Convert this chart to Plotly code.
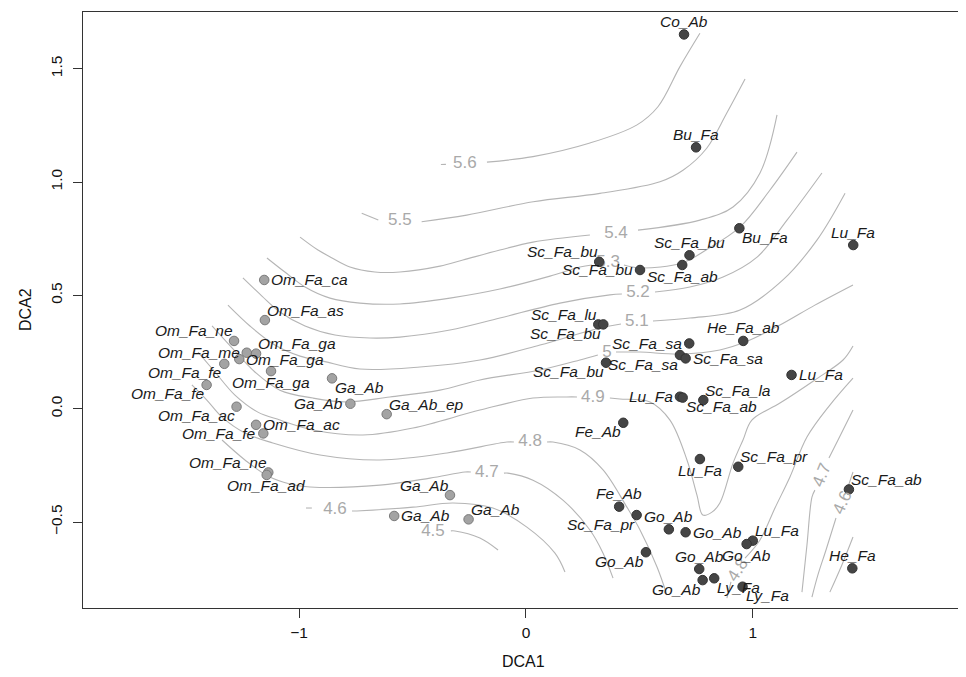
import plotly.graph_objects as go

FONT = "Liberation Sans, Arial, Helvetica, sans-serif"

# ---- site scores (DCA1, DCA2) : light group (Om / Ga) ----
labels_a = ["Om_Fa_ca", "Om_Fa_as", "Om_Fa_ne", "Om_Fa_me", "Om_Fa_ga", "Om_Fa_ga",
            "Om_Fa_fe", "Om_Fa_ga", "Om_Fa_fe", "Om_Fa_ac", "Om_Fa_ac", "Om_Fa_fe",
            "Om_Fa_ne", "Om_Fa_ad", "Ga_Ab", "Ga_Ab", "Ga_Ab_ep", "Ga_Ab", "Ga_Ab", "Ga_Ab"]
dca1_a = [-1.154, -1.151, -1.287, -1.231, -1.190, -1.264, -1.330, -1.124, -1.408, -1.276,
          -1.190, -1.158, -1.136, -1.143, -0.855, -0.774, -0.614, -0.335, -0.581, -0.253]
dca2_a = [0.568, 0.391, 0.299, 0.247, 0.243, 0.219, 0.198, 0.166, 0.105, 0.009,
          -0.071, -0.109, -0.281, -0.292, 0.134, 0.022, -0.024, -0.381, -0.473, -0.488]
pos_a = ["middle right", "top right", "top left", "middle left", "top right", "middle right",
         "bottom left", "bottom center", "bottom left", "bottom left", "middle right", "middle left",
         "top left", "bottom center", "bottom right", "middle left", "top right", "top left",
         "middle right", "top right"]

# ---- site scores : dark group ----
labels_b = ["Co_Ab", "Bu_Fa", "Bu_Fa", "Sc_Fa_bu", "Sc_Fa_ab", "Sc_Fa_bu", "Sc_Fa_bu", "Sc_Fa_lu",
            "Sc_Fa_bu", "Sc_Fa_sa", "Sc_Fa_sa", "Sc_Fa_sa", "He_Fa_ab", "Sc_Fa_bu", "Lu_Fa",
            "Lu_Fa", "Sc_Fa_ab", "Sc_Fa_la", "Lu_Fa", "Fe_Ab", "Lu_Fa", "Sc_Fa_pr", "Fe_Ab",
            "Sc_Fa_pr", "Go_Ab", "Go_Ab", "Go_Ab", "Lu_Fa", "Go_Ab", "Go_Ab", "Go_Ab", "Ly_Fa",
            "Ly_Fa", "Sc_Fa_ab", "He_Fa"]
dca1_b = [0.697, 0.750, 0.941, 0.721, 0.689, 0.323, 0.503, 0.319, 0.341, 0.720, 0.679, 0.704,
          0.958, 0.353, 1.171, 0.679, 0.691, 0.782, 1.443, 0.429, 0.767, 0.936, 0.411, 0.488,
          0.630, 0.704, 0.529, 1.000, 0.973, 0.764, 0.779, 0.830, 0.955, 1.424, 1.439]
dca2_b = [1.651, 1.153, 0.796, 0.677, 0.634, 0.648, 0.612, 0.372, 0.372, 0.288, 0.237, 0.222,
          0.299, 0.203, 0.149, 0.053, 0.049, 0.038, 0.722, -0.062, -0.222, -0.256, -0.432, -0.469,
          -0.532, -0.545, -0.633, -0.582, -0.597, -0.707, -0.756, -0.748, -0.785, -0.356, -0.704]
pos_b = ["top center", "top center", "bottom right", "top center", "bottom center", "top left",
         "middle left", "top left", "bottom left", "middle left", "bottom left", "middle right",
         "top center", "bottom left", "middle right", "middle left", "bottom right", "top right",
         "top center", "bottom left", "bottom center", "top right", "top center", "bottom left",
         "top center", "middle right", "bottom left", "top right", "bottom center", "top center",
         "bottom left", "bottom right", "bottom right", "top right", "top center"]

# ---- fitted surface contour lines (None = gap at label) ----
c56_x = [-0.375, -0.353, None, -0.172, 0.031, 0.282, 0.488, 0.582, 0.679, 0.767]
c56_y = [1.077, 1.078, None, 1.088, 1.112, 1.172, 1.251, 1.332, 1.509, 1.656]
c55_x = [-0.724, -0.651, None, -0.460, -0.261, 0.032, 0.326, 0.591, 0.694, 0.797, 0.885, 0.966]
c55_y = [0.862, 0.832, None, 0.825, 0.854, 0.913, 0.950, 1.001, 1.053, 1.149, 1.303, 1.454]
c54_x = [-0.996, -0.917, -0.855, -0.776, -0.666, -0.556, -0.379, -0.278, -0.115, 0.031, 0.282,
         None, 0.494, 0.767, 0.913, 1.032, 1.107]
c54_y = [0.757, 0.700, 0.665, 0.625, 0.603, 0.603, 0.629, 0.656, 0.700, 0.735, 0.766,
         None, 0.788, 0.832, 0.890, 1.040, 1.296]
c53_x = [-1.142, -1.063, -0.974, -0.864, -0.732, -0.556, -0.335, -0.115, 0.106, 0.238, 0.291,
         None, 0.432, 0.503, 0.688, 0.794, 0.944, 1.076, 1.195]
c53_y = [0.665, 0.603, 0.537, 0.488, 0.466, 0.462, 0.488, 0.528, 0.585, 0.625, 0.634,
         None, 0.634, 0.621, 0.643, 0.700, 0.802, 0.965, 1.132]
c52_x = [-1.248, -1.164, -1.085, -0.974, -0.842, -0.688, -0.556, -0.335, -0.115, 0.150, 0.370,
         0.423, None, 0.569, 0.723, 0.869, 1.019, 1.151, 1.305]
c52_y = [0.577, 0.497, 0.427, 0.365, 0.325, 0.312, 0.316, 0.347, 0.400, 0.466, 0.502,
         0.506, None, 0.515, 0.537, 0.581, 0.669, 0.832, 1.040]
c51_x = [-1.314, -1.217, -1.107, -0.996, -0.895, -0.732, -0.467, -0.203, 0.062, 0.326, 0.419,
         None, 0.560, 0.723, 0.944, 1.133, 1.283, 1.407]
c51_y = [0.457, 0.365, 0.281, 0.232, 0.210, 0.175, 0.184, 0.215, 0.281, 0.356, 0.374,
         None, 0.387, 0.400, 0.435, 0.568, 0.744, 0.951]
c50_x = [-1.384, -1.296, -1.195, -1.085, -0.939, -0.789, -0.600, -0.379, -0.203, 0.062, 0.238,
         0.317, None, 0.397, 0.503, 0.679, 0.855, 0.966, 1.120, 1.274, 1.442]
c50_y = [0.365, 0.268, 0.162, 0.082, 0.047, 0.030, 0.052, 0.082, 0.127, 0.171, 0.215,
         0.237, None, 0.250, 0.250, 0.241, 0.259, 0.294, 0.369, 0.457, 0.546]
c49_x = [-1.446, -1.371, -1.283, -1.182, -1.085, -0.939, -0.719, -0.498, -0.203, 0.031, 0.181,
         0.225, None, 0.370, 0.414, 0.547, 0.635, 0.710, 0.754, 0.780, 0.820, 0.855, 0.913,
         0.957, 0.996, 1.120, 1.274, 1.398, 1.442]
c49_y = [0.250, 0.162, 0.060, -0.015, -0.050, -0.094, -0.116, -0.085, -0.006, 0.047, 0.052,
         0.052, None, 0.047, 0.043, 0.030, -0.050, -0.226, -0.381, -0.469, -0.456, -0.416, -0.240,
         -0.138, -0.050, 0.025, 0.127, 0.215, 0.277]
c48_x = [-1.473, -1.407, -1.340, -1.239, -1.116, -0.908, -0.644, -0.348, -0.084, -0.053,
         None, 0.093, 0.119, 0.238, 0.340, 0.445, 0.503, 0.578, 0.622]
c48_y = [0.105, 0.038, -0.037, -0.107, -0.151, -0.204, -0.226, -0.195, -0.147, -0.147,
         None, -0.147, -0.147, -0.182, -0.270, -0.434, -0.535, -0.698, -0.822]
c48r_x = [0.886, 0.904, None, 0.966, 1.032, 1.098, 1.164, 1.239, 1.340, 1.442]
c48r_y = [-0.835, -0.764, None, -0.659, -0.579, -0.438, -0.301, -0.125, 0.016, 0.135]
c47_x = [-1.340, -1.239, -1.138, -1.041, -0.952, -0.644, -0.423, -0.269, -0.243,
         None, -0.097, -0.079, 0.031, 0.163, 0.282, 0.340, 0.384]
c47_y = [-0.138, -0.226, -0.297, -0.332, -0.345, -0.337, -0.306, -0.279, -0.279,
         None, -0.284, -0.284, -0.315, -0.403, -0.535, -0.637, -0.747]
c47r_x = [1.217, 1.239, 1.261, 1.274, None, 1.336, 1.376, 1.442]
c47r_y = [-0.809, -0.601, -0.390, -0.359, None, -0.217, -0.138, -0.006]
c46_x = [-0.970, -0.944, None, -0.767, -0.745, -0.498, -0.322, -0.146, 0.004, 0.128, 0.172]
c46_y = [-0.438, -0.438, None, -0.451, -0.451, -0.434, -0.416, -0.438, -0.522, -0.637, -0.720]
c46r_x = [1.261, 1.287, 1.323, 1.367, None, 1.420, 1.442]
c46r_y = [-0.831, -0.734, -0.623, -0.482, None, -0.345, -0.279]
c45_x = [-0.331, -0.313, -0.203, -0.123]
c45_y = [-0.539, -0.539, -0.570, -0.623]
c45r_x = [1.340, 1.393, 1.442]
c45r_y = [-0.809, -0.689, -0.566]

# contour labels (horizontal)
clab_text = ["5.6", "5.5", "5.4", "5.3", "5.2", "5.1", "5", "4.9", "4.8", "4.7", "4.6", "4.5"]
clab_x = [-0.269, -0.556, 0.397, 0.362, 0.494, 0.489, 0.357, 0.295, 0.018, -0.172, -0.842, -0.410]
clab_y = [1.082, 0.828, 0.771, 0.643, 0.510, 0.382, 0.246, 0.047, -0.147, -0.284, -0.447, -0.544]
# contour labels (rotated along the line)
rlab_text = ["4.8", "4.7", "4.6"]
rlab_x = [0.935, 1.305, 1.393]
rlab_y = [-0.711, -0.292, -0.412]
rlab_angle = [-57, -68, -66]

x_ticks = [-1, 0, 1]
y_ticks = [-0.5, 0.0, 0.5, 1.0, 1.5]

contours = [(c56_x, c56_y), (c55_x, c55_y), (c54_x, c54_y), (c53_x, c53_y), (c52_x, c52_y),
            (c51_x, c51_y), (c50_x, c50_y), (c49_x, c49_y), (c48_x, c48_y), (c48r_x, c48r_y),
            (c47_x, c47_y), (c47r_x, c47r_y), (c46_x, c46_y), (c46r_x, c46r_y),
            (c45_x, c45_y), (c45r_x, c45r_y)]

LINE_COL = "#b5b5b5"
LAB_COL = "#a9a9a9"
TXT_COL = "#1a1a1a"

# label placement style (R-like offsets, pixels): position -> (xanchor, xshift, yshift)
PLACE = {
    "top left": ("right", 0, 10), "top center": ("center", 0, 13), "top right": ("left", 1, 10),
    "middle left": ("right", -6, 0), "middle right": ("left", 6, 0),
    "bottom left": ("right", -1, -9), "bottom center": ("center", 0, -11),
    "bottom right": ("left", 2, -9),
}

fig = go.Figure()
for cx, cy in contours:
    fig.add_trace(go.Scatter(x=cx, y=cy, mode="lines", line=dict(color=LINE_COL, width=1.1),
                             hoverinfo="skip", showlegend=False, connectgaps=False,
                             line_shape="spline"))

fig.add_trace(go.Scatter(x=clab_x, y=clab_y, mode="text", text=clab_text,
                         textposition="middle center",
                         textfont=dict(family=FONT, size=17, color=LAB_COL),
                         hoverinfo="skip", showlegend=False))

for lx, ly, lt, la in zip(rlab_x, rlab_y, rlab_text, rlab_angle):
    fig.add_annotation(x=lx, y=ly, text=lt, textangle=la, showarrow=False,
                       font=dict(family=FONT, size=17, color=LAB_COL))

fig.add_trace(go.Scatter(x=dca1_a, y=dca2_a, mode="markers",
                         marker=dict(size=9.5, color="#a3a3a3", line=dict(color="#7a7a7a", width=1)),
                         text=labels_a, hoverinfo="text", showlegend=False))
fig.add_trace(go.Scatter(x=dca1_b, y=dca2_b, mode="markers",
                         marker=dict(size=9.5, color="#454545", line=dict(color="#333333", width=1)),
                         text=labels_b, hoverinfo="text", showlegend=False))

for xs, ys, ts, ps in [(dca1_a, dca2_a, labels_a, pos_a), (dca1_b, dca2_b, labels_b, pos_b)]:
    for px, py, pt, pp in zip(xs, ys, ts, ps):
        xa, xsh, ysh = PLACE[pp]
        fig.add_annotation(x=px, y=py, text=pt, showarrow=False, xanchor=xa, yanchor="middle",
                           xshift=xsh, yshift=ysh, borderpad=0,
                           font=dict(family=FONT, size=15.5, color=TXT_COL, style="italic"))

axis_common = dict(showgrid=False, zeroline=False, showline=True, mirror=True,
                   linecolor="#333333", linewidth=1, ticks="outside", ticklen=9,
                   tickcolor="#333333", tickwidth=1,
                   tickfont=dict(family=FONT, size=15.5, color="#111111"))

fig.update_xaxes(range=[-1.953, 1.927], tickvals=x_ticks, tickformat="d",
                 ticklabelstandoff=1, **axis_common)
fig.update_yaxes(range=[-0.879, 1.750], tickvals=y_ticks, tickformat=".1f",
                 tickangle=-90, ticklabelstandoff=5, **axis_common)

fig.add_annotation(text="DCA1", xref="paper", yref="paper", x=0.5, y=0, yanchor="middle",
                   yshift=-53, showarrow=False, font=dict(family=FONT, size=16, color="#111111"))
fig.add_annotation(text="DCA2", xref="paper", yref="paper", x=0, y=0.5, xanchor="center",
                   xshift=-58, textangle=-90, showarrow=False,
                   font=dict(family=FONT, size=16, color="#111111"))

# page body keeps an 8px margin, so the figure is 8px smaller and its margins offset by 8px
fig.update_layout(width=958, height=669, margin=dict(l=75, r=3, t=4, b=69),
                  paper_bgcolor="white", plot_bgcolor="white", showlegend=False)

fig.write_html("out.html")
